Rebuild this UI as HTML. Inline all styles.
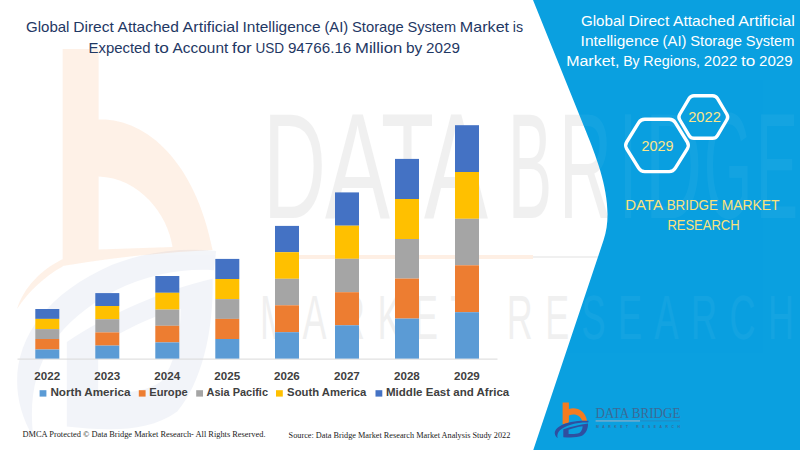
<!DOCTYPE html>
<html><head><meta charset="utf-8"><title>Global Direct Attached AI Storage System Market</title>
<style>
html,body{margin:0;padding:0;background:#fff;}
body{width:800px;height:450px;overflow:hidden;font-family:"Liberation Sans",sans-serif;}
svg{display:block}
text{font-family:"Liberation Sans",sans-serif;}
.serif{font-family:"Liberation Serif",serif;}
</style></head><body>
<svg width="800" height="450" viewBox="0 0 800 450">
<rect width="800" height="450" fill="#ffffff"/>
<g id="wm">
<path fill-rule="evenodd" d="M62.7,49 H98.6 V119.6 C145,118 195,160 212.6,250 Q140,253 62.7,266 Z M98.6,176.6 C140,178 168,215 172.5,247 L98.6,249.6 Z M62.7,259 L62.7,266.5 C45,276 28,292 17,309 C24,287 41,270 62.7,259 Z" fill="#f47c20" opacity="0.105"/>
<g transform="matrix(5.9 0 0 10.7 -3256.6 -4251.6)"><g opacity="0.06">
<path d="M557.6,438.2 C551.5,432.5 555.5,425.8 571,422.1 C577,420.8 583,420.5 588.6,420.8 L588.2,422.6 C583,422.4 577,423 571.5,424.5 C560.5,427.8 556.3,432 557.6,438.2 Z" fill="#2f4fa0"/>
<path fill-rule="evenodd" d="M563.3,429.3 C570,426.8 580,424.4 588,423.4 C588.2,428.5 586,433.2 582,435.8 C577,437.8 570,437.6 563.3,437.2 Z M568.6,429.8 C572,428.4 578,426.8 582.6,426.2 C582.6,429 581.5,431.4 579.3,433 C576,434.2 572,434.1 568.6,433.9 Z" fill="#2f4fa0"/>
</g></g>
<g fill="#000" opacity="0.055">
<text transform="translate(263 218) scale(1 1.508)" font-size="100" textLength="63" lengthAdjust="spacingAndGlyphs">D</text>
<text transform="translate(325 218) scale(1 1.508)" font-size="100" textLength="65" lengthAdjust="spacingAndGlyphs">A</text>
<text transform="translate(381 218) scale(1 1.508)" font-size="100" textLength="53" lengthAdjust="spacingAndGlyphs">T</text>
<text transform="translate(424 218) scale(1 1.508)" font-size="100" textLength="64" lengthAdjust="spacingAndGlyphs">A</text>
<text transform="translate(508 218) scale(1 1.508)" font-size="100" textLength="44" lengthAdjust="spacingAndGlyphs">B</text>
<text transform="translate(559 218) scale(1 1.508)" font-size="100" textLength="53" lengthAdjust="spacingAndGlyphs">R</text>
<text transform="translate(619 218) scale(1 1.508)" font-size="100" textLength="18" lengthAdjust="spacingAndGlyphs">I</text>
<text transform="translate(645 218) scale(1 1.508)" font-size="100" textLength="57" lengthAdjust="spacingAndGlyphs">D</text>
<text transform="translate(704 218) scale(1 1.508)" font-size="100" textLength="48" lengthAdjust="spacingAndGlyphs">G</text>
<text transform="translate(756 218) scale(1 1.508)" font-size="100" textLength="42" lengthAdjust="spacingAndGlyphs">E</text>
<text transform="translate(260 339) scale(1 1.75)" font-size="36" textLength="534" lengthAdjust="spacing">MARKET RESEARCH</text>
</g>
<rect x="296" y="255" width="237" height="4" fill="#f47c20" opacity="0.12"/>
<rect x="533" y="256" width="263" height="2" fill="#000" opacity="0.06"/>
</g>
<!-- blue panel -->
<path d="M533,0 L586.03,131.59 C598.39,162.26 615.28,205.27 603.61,240.12 L533.3,450 L800,450 L800,0 Z" fill="#0aa0e0"/>
<clipPath id="pc"><path d="M533,0 L586.03,131.59 C598.39,162.26 615.28,205.27 603.61,240.12 L533.3,450 L800,450 L800,0 Z"/></clipPath>
<g clip-path="url(#pc)" fill="#fff" opacity="0.04">
<text transform="translate(508 218) scale(1 1.508)" font-size="100" textLength="44" lengthAdjust="spacingAndGlyphs">B</text>
<text transform="translate(559 218) scale(1 1.508)" font-size="100" textLength="53" lengthAdjust="spacingAndGlyphs">R</text>
<text transform="translate(619 218) scale(1 1.508)" font-size="100" textLength="18" lengthAdjust="spacingAndGlyphs">I</text>
<text transform="translate(645 218) scale(1 1.508)" font-size="100" textLength="57" lengthAdjust="spacingAndGlyphs">D</text>
<text transform="translate(704 218) scale(1 1.508)" font-size="100" textLength="48" lengthAdjust="spacingAndGlyphs">G</text>
<text transform="translate(756 218) scale(1 1.508)" font-size="100" textLength="42" lengthAdjust="spacingAndGlyphs">E</text>
<text transform="translate(260 339) scale(1 1.75)" font-size="36" textLength="534" lengthAdjust="spacing">MARKET RESEARCH</text>
</g>
<!-- axis -->
<rect x="17.5" y="358.6" width="480" height="1" fill="#d9d9d9"/>
<!-- bars -->
<rect x="35.3" y="309.0" width="24" height="9.9" fill="#4472C4"/>
<rect x="35.3" y="318.9" width="24" height="10.2" fill="#FFC000"/>
<rect x="35.3" y="329.1" width="24" height="9.9" fill="#A5A5A5"/>
<rect x="35.3" y="339.0" width="24" height="10.5" fill="#ED7D31"/>
<rect x="35.3" y="349.5" width="24" height="9.1" fill="#5B9BD5"/>
<rect x="95.3" y="293.1" width="24" height="12.9" fill="#4472C4"/>
<rect x="95.3" y="306.0" width="24" height="13.2" fill="#FFC000"/>
<rect x="95.3" y="319.2" width="24" height="13.2" fill="#A5A5A5"/>
<rect x="95.3" y="332.4" width="24" height="13.2" fill="#ED7D31"/>
<rect x="95.3" y="345.6" width="24" height="13.0" fill="#5B9BD5"/>
<rect x="155.3" y="276.0" width="24" height="16.8" fill="#4472C4"/>
<rect x="155.3" y="292.8" width="24" height="16.8" fill="#FFC000"/>
<rect x="155.3" y="309.6" width="24" height="16.2" fill="#A5A5A5"/>
<rect x="155.3" y="325.8" width="24" height="16.6" fill="#ED7D31"/>
<rect x="155.3" y="342.4" width="24" height="16.2" fill="#5B9BD5"/>
<rect x="215.3" y="258.9" width="24" height="20.1" fill="#4472C4"/>
<rect x="215.3" y="279.0" width="24" height="20.1" fill="#FFC000"/>
<rect x="215.3" y="299.1" width="24" height="19.8" fill="#A5A5A5"/>
<rect x="215.3" y="318.9" width="24" height="20.1" fill="#ED7D31"/>
<rect x="215.3" y="339.0" width="24" height="19.6" fill="#5B9BD5"/>
<rect x="275.0" y="225.9" width="24" height="26.3" fill="#4472C4"/>
<rect x="275.0" y="252.2" width="24" height="26.6" fill="#FFC000"/>
<rect x="275.0" y="278.8" width="24" height="26.5" fill="#A5A5A5"/>
<rect x="275.0" y="305.3" width="24" height="26.9" fill="#ED7D31"/>
<rect x="275.0" y="332.2" width="24" height="26.4" fill="#5B9BD5"/>
<rect x="335.0" y="192.4" width="24" height="33.3" fill="#4472C4"/>
<rect x="335.0" y="225.7" width="24" height="33.1" fill="#FFC000"/>
<rect x="335.0" y="258.8" width="24" height="33.4" fill="#A5A5A5"/>
<rect x="335.0" y="292.2" width="24" height="33.1" fill="#ED7D31"/>
<rect x="335.0" y="325.3" width="24" height="33.3" fill="#5B9BD5"/>
<rect x="395.0" y="158.9" width="24" height="40.1" fill="#4472C4"/>
<rect x="395.0" y="199.0" width="24" height="40.0" fill="#FFC000"/>
<rect x="395.0" y="239.0" width="24" height="39.6" fill="#A5A5A5"/>
<rect x="395.0" y="278.6" width="24" height="40.0" fill="#ED7D31"/>
<rect x="395.0" y="318.6" width="24" height="40.0" fill="#5B9BD5"/>
<rect x="455.0" y="125.2" width="24" height="46.8" fill="#4472C4"/>
<rect x="455.0" y="172.0" width="24" height="46.8" fill="#FFC000"/>
<rect x="455.0" y="218.8" width="24" height="46.5" fill="#A5A5A5"/>
<rect x="455.0" y="265.3" width="24" height="46.9" fill="#ED7D31"/>
<rect x="455.0" y="312.2" width="24" height="46.4" fill="#5B9BD5"/>
<!-- years -->
<g font-size="10.8" font-weight="bold" fill="#404040">
<text x="34.3" y="380.1" textLength="25.8" lengthAdjust="spacingAndGlyphs">2022</text>
<text x="94.3" y="380.1" textLength="25.8" lengthAdjust="spacingAndGlyphs">2023</text>
<text x="154.3" y="380.1" textLength="25.8" lengthAdjust="spacingAndGlyphs">2024</text>
<text x="214.3" y="380.1" textLength="25.8" lengthAdjust="spacingAndGlyphs">2025</text>
<text x="274.0" y="380.1" textLength="25.8" lengthAdjust="spacingAndGlyphs">2026</text>
<text x="334.0" y="380.1" textLength="25.8" lengthAdjust="spacingAndGlyphs">2027</text>
<text x="394.0" y="380.1" textLength="25.8" lengthAdjust="spacingAndGlyphs">2028</text>
<text x="454.0" y="380.1" textLength="25.8" lengthAdjust="spacingAndGlyphs">2029</text>
</g>
<!-- legend -->
<g font-size="11.5" font-weight="bold" fill="#404040">
<rect x="39.6" y="390.2" width="6.8" height="6.4" fill="#5B9BD5"/>
<text x="50.4" y="396.3" textLength="80.0" lengthAdjust="spacingAndGlyphs">North America</text>
<rect x="138.8" y="390.2" width="6.8" height="6.4" fill="#ED7D31"/>
<text x="149.3" y="396.3" textLength="38.4" lengthAdjust="spacingAndGlyphs">Europe</text>
<rect x="196.2" y="390.2" width="6.8" height="6.4" fill="#A5A5A5"/>
<text x="206.6" y="396.3" textLength="61.4" lengthAdjust="spacingAndGlyphs">Asia Pacific</text>
<rect x="276.0" y="390.2" width="6.8" height="6.4" fill="#FFC000"/>
<text x="287.1" y="396.3" textLength="79.3" lengthAdjust="spacingAndGlyphs">South America</text>
<rect x="375.5" y="390.2" width="6.8" height="6.4" fill="#4472C4"/>
<text x="386.0" y="396.3" textLength="123.2" lengthAdjust="spacingAndGlyphs">Middle East and Africa</text>
</g>
<!-- title -->
<g font-size="14.4" fill="#1f3864">
<text x="26.00" y="32.3" textLength="43.46" lengthAdjust="spacingAndGlyphs">Global</text>
<text x="73.21" y="32.3" textLength="40.60" lengthAdjust="spacingAndGlyphs">Direct</text>
<text x="117.56" y="32.3" textLength="61.32" lengthAdjust="spacingAndGlyphs">Attached</text>
<text x="182.63" y="32.3" textLength="56.16" lengthAdjust="spacingAndGlyphs">Artificial</text>
<text x="242.54" y="32.3" textLength="78.13" lengthAdjust="spacingAndGlyphs">Intelligence</text>
<text x="324.41" y="32.3" textLength="23.82" lengthAdjust="spacingAndGlyphs">(AI)</text>
<text x="351.99" y="32.3" textLength="51.69" lengthAdjust="spacingAndGlyphs">Storage</text>
<text x="407.42" y="32.3" textLength="48.65" lengthAdjust="spacingAndGlyphs">System</text>
<text x="459.83" y="32.3" textLength="49.24" lengthAdjust="spacingAndGlyphs">Market</text>
<text x="512.81" y="32.3" textLength="10.29" lengthAdjust="spacingAndGlyphs">is</text>
<text x="88.50" y="53.2" textLength="62.15" lengthAdjust="spacingAndGlyphs">Expected</text>
<text x="154.42" y="53.2" textLength="14.39" lengthAdjust="spacingAndGlyphs">to</text>
<text x="172.57" y="53.2" textLength="55.68" lengthAdjust="spacingAndGlyphs">Account</text>
<text x="232.02" y="53.2" textLength="19.71" lengthAdjust="spacingAndGlyphs">for</text>
<text x="255.50" y="53.2" textLength="28.63" lengthAdjust="spacingAndGlyphs">USD</text>
<text x="287.91" y="53.2" textLength="63.40" lengthAdjust="spacingAndGlyphs">94766.16</text>
<text x="355.08" y="53.2" textLength="47.14" lengthAdjust="spacingAndGlyphs">Million</text>
<text x="405.99" y="53.2" textLength="16.32" lengthAdjust="spacingAndGlyphs">by</text>
<text x="426.08" y="53.2" textLength="33.82" lengthAdjust="spacingAndGlyphs">2029</text>
</g>
<!-- right title -->
<g font-size="15.1" fill="#ffffff">
<text x="581.00" y="26.2" textLength="43.67" lengthAdjust="spacingAndGlyphs">Global</text>
<text x="628.44" y="26.2" textLength="40.79" lengthAdjust="spacingAndGlyphs">Direct</text>
<text x="672.99" y="26.2" textLength="61.61" lengthAdjust="spacingAndGlyphs">Attached</text>
<text x="738.38" y="26.2" textLength="56.42" lengthAdjust="spacingAndGlyphs">Artificial</text>
<text x="580.60" y="46.0" textLength="78.22" lengthAdjust="spacingAndGlyphs">Intelligence</text>
<text x="662.58" y="46.0" textLength="23.85" lengthAdjust="spacingAndGlyphs">(AI)</text>
<text x="690.18" y="46.0" textLength="51.75" lengthAdjust="spacingAndGlyphs">Storage</text>
<text x="745.69" y="46.0" textLength="48.71" lengthAdjust="spacingAndGlyphs">System</text>
<text x="566.20" y="65.6" textLength="53.21" lengthAdjust="spacingAndGlyphs">Market,</text>
<text x="623.15" y="65.6" textLength="16.47" lengthAdjust="spacingAndGlyphs">By</text>
<text x="643.36" y="65.6" textLength="56.76" lengthAdjust="spacingAndGlyphs">Regions,</text>
<text x="703.85" y="65.6" textLength="33.51" lengthAdjust="spacingAndGlyphs">2022</text>
<text x="741.10" y="65.6" textLength="14.25" lengthAdjust="spacingAndGlyphs">to</text>
<text x="759.09" y="65.6" textLength="33.51" lengthAdjust="spacingAndGlyphs">2029</text>
</g>
<!-- hexagons -->
<g fill="none" stroke="#ffffff" stroke-width="3.4" stroke-linejoin="round">
<path d="M626.70,148.80 Q624.60,145.40 626.70,142.00 L638.70,122.60 Q640.80,119.20 644.80,119.20 L669.20,119.20 Q673.20,119.20 675.30,122.60 L687.30,142.00 Q689.40,145.40 687.30,148.80 L675.30,168.20 Q673.20,171.60 669.20,171.60 L644.80,171.60 Q640.80,171.60 638.70,168.20 Z"/>
<path d="M679.74,119.75 Q678.10,117.00 679.74,114.25 L689.16,98.45 Q690.80,95.70 694.00,95.70 L712.60,95.70 Q715.80,95.70 717.44,98.45 L726.86,114.25 Q728.50,117.00 726.86,119.75 L717.44,135.55 Q715.80,138.30 712.60,138.30 L694.00,138.30 Q690.80,138.30 689.16,135.55 Z" fill="#0aa0e0"/>
</g>
<g font-size="14.4" fill="#fbe68a">
<text x="641.5" y="151" textLength="32" lengthAdjust="spacingAndGlyphs">2029</text>
<text x="688.2" y="122.4" textLength="32.6" lengthAdjust="spacingAndGlyphs">2022</text>
</g>
<g font-size="13.8" fill="#fbe27c">
<text x="625.20" y="209.6" textLength="37.69" lengthAdjust="spacingAndGlyphs">DATA</text>
<text x="666.66" y="209.6" textLength="51.26" lengthAdjust="spacingAndGlyphs">BRIDGE</text>
<text x="721.69" y="209.6" textLength="57.91" lengthAdjust="spacingAndGlyphs">MARKET</text>
<text x="667.40" y="229.5" textLength="72.20" lengthAdjust="spacingAndGlyphs">RESEARCH</text>
</g>
<!-- footer -->
<g class="serif" font-size="8.6" fill="#1a1a1a">
<text class="serif" x="22.5" y="437" textLength="243" lengthAdjust="spacingAndGlyphs">DMCA Protected © Data Bridge Market Research- All Rights Reserved.</text>
<text class="serif" x="288.6" y="437.6" textLength="221.7" lengthAdjust="spacingAndGlyphs">Source: Data Bridge Market Research Market Analysis Study 2022</text>
</g>
<path d="M562.6,402.4 h6.3 v6.6 C576,406.3 585.6,410.5 587,421 L582,420.8 C580.8,415.6 575,412.8 568.9,415.4 V422.6 L562.6,424.2 Z" fill="#f47c20"/>
<path d="M557.6,438.2 C551.5,432.5 555.5,425.8 571,422.1 C577,420.8 583,420.5 588.6,420.8 L588.2,422.6 C583,422.4 577,423 571.5,424.5 C560.5,427.8 556.3,432 557.6,438.2 Z" fill="#2f4fa0"/>
<path fill-rule="evenodd" d="M563.3,429.3 C570,426.8 580,424.4 588,423.4 C588.2,428.5 586,433.2 582,435.8 C577,437.8 570,437.6 563.3,437.2 Z M568.6,429.8 C572,428.4 578,426.8 582.6,426.2 C582.6,429 581.5,431.4 579.3,433 C576,434.2 572,434.1 568.6,433.9 Z" fill="#2f4fa0"/>
<g fill="#3c6a96">
<text class="serif" x="595.4" y="418.1" font-size="15" textLength="85" lengthAdjust="spacingAndGlyphs">DATA BRIDGE</text>
<text x="596" y="428" font-size="3.4" font-weight="bold" textLength="84" lengthAdjust="spacing">MARKET RESEARCH</text>
</g>
<rect x="595.6" y="420.5" width="44.4" height="0.9" fill="#b9b3bf"/>
<rect x="640" y="420.7" width="40" height="0.5" fill="#3f74a6"/>
</svg>
</body></html>
